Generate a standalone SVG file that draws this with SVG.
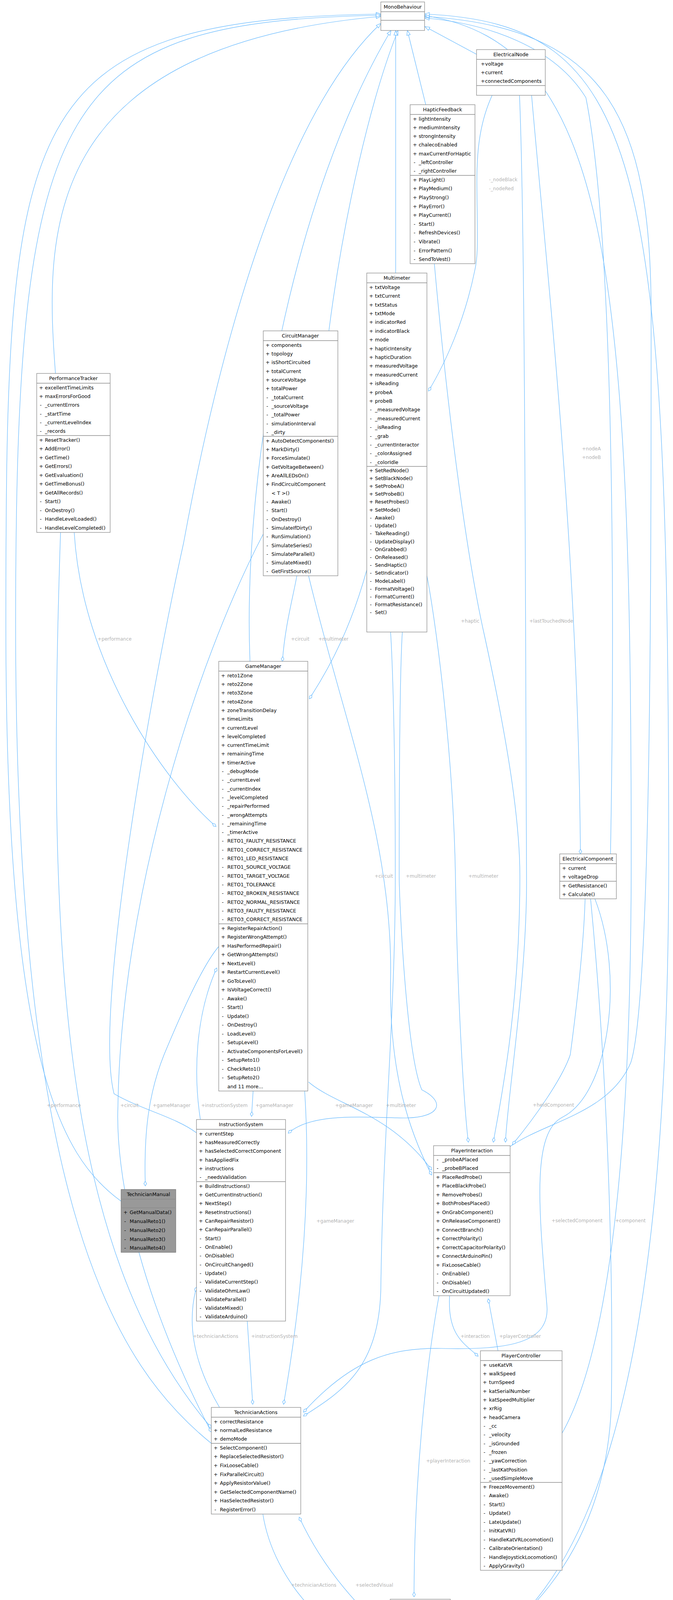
<svg xmlns="http://www.w3.org/2000/svg" width="1723" height="4485" viewBox="0 0 1723 4485">
<style>
.b{fill:#fff;stroke:#8c8c8c;stroke-width:1.3}
.g{fill:#999;stroke:#7a7a7a;stroke-width:1.3}
.d{stroke:#8c8c8c;stroke-width:1.3}
text{font-family:"DejaVu Sans",sans-serif;font-size:12.5px;fill:#000}
.c{text-anchor:middle}
.l{font-size:12px;fill:#b3b3b3}
.e{fill:none;stroke:#63b8ff;stroke-width:1.2}
</style>
<defs>
<marker id="tri" markerUnits="userSpaceOnUse" viewBox="-1 -6 14 12" refX="12" refY="0" markerWidth="14" markerHeight="12" orient="auto"><path d="M0,-4.5 L12,0 L0,4.5 Z" fill="#fff" stroke="#63b8ff" stroke-width="1.2"/></marker>
<marker id="dia" markerUnits="userSpaceOnUse" viewBox="-1 -5 14 10" refX="0" refY="0" markerWidth="14" markerHeight="10" orient="auto"><path d="M0,0 L6,-3.5 L12,0 L6,3.5 Z" fill="#fff" stroke="#63b8ff" stroke-width="1.2"/></marker>
</defs>
<rect width="1723" height="4485" fill="#fff"/>
<g id="edges">
<path class="e" marker-end="url(#tri)" d="M142,956 C115,600 100,120 975,42"/>
<path class="e" marker-end="url(#tri)" d="M310,3075 C150,2960 15,2700 15,1600 C15,300 40,50 975,36"/>
<path class="e" marker-end="url(#tri)" d="M541,3695 C300,3500 40,3100 40,1600 C40,250 150,55 975,39"/>
<path class="e" marker-end="url(#tri)" d="M503,2900 C450,2860 360,2840 292,2800 C240,2600 380,1800 470,1390 C560,900 720,300 975,60"/>
<path class="e" marker-end="url(#tri)" d="M640,1693 C620,1200 750,500 1001,78"/>
<path class="e" marker-end="url(#tri)" d="M842,847 C880,550 950,250 1019,78"/>
<path class="e" marker-end="url(#tri)" d="M1013,699 L1013,78"/>
<path class="e" marker-end="url(#tri)" d="M1090,268 L1043,78"/>
<path class="e" marker-end="url(#tri)" d="M1220,139 L1088,68"/>
<path class="e" marker-end="url(#tri)" d="M1563,2186 C1575,1500 1570,600 1500,250 C1420,120 1250,60 1087,46"/>
<path class="e" marker-end="url(#tri)" d="M1306,2935 C1400,2870 1560,2850 1615,2720 C1667,2560 1667,1500 1667,800 C1667,300 1550,70 1087,42"/>
<path class="e" marker-end="url(#tri)" d="M1439,3669 C1580,3420 1616,2800 1616,2200 C1616,700 1560,110 1087,40"/>
<path class="e" marker-end="url(#tri)" d="M1153,4262 C1500,4120 1712,3600 1712,2200 C1712,400 1640,60 1087,36"/>

<path class="e" marker-start="url(#dia)" d="M553,2116 C420,2000 210,1700 190,1363"/>
<path class="e" marker-start="url(#dia)" d="M541,3655 C150,3200 120,2400 155,1363"/>
<path class="e" marker-start="url(#dia)" d="M723,1693 C730,1600 750,1530 760,1474"/>
<path class="e" marker-start="url(#dia)" d="M541,3666 C350,3300 295,3000 302,2830 C310,2300 500,1700 674,1367"/>
<path class="e" marker-start="url(#dia)" d="M1105,3008 C1050,2900 995,2750 1000,2500 C1005,2150 880,1850 790,1474"/>
<path class="e" marker-start="url(#dia)" d="M792,1789 C850,1700 900,1600 939,1459"/>
<path class="e" marker-start="url(#dia)" d="M738,2901 C800,2845 950,2862 1040,2862 C1130,2860 1140,2820 1080,2790 C1040,2700 1022,2300 1022,2243 C1022,1900 1025,1700 1030,1618"/>
<path class="e" marker-start="url(#dia)" d="M777,3625 C880,3560 970,3500 975,3300 C980,2900 1012,2600 1012,2243 C1012,1900 1005,1700 1000,1618"/>
<path class="e" marker-start="url(#dia)" d="M1105,2995 C1000,2850 860,2830 790,2770"/>
<path class="e" marker-start="url(#dia)" d="M726,3595 C760,3400 800,3100 780,2793"/>
<path class="e" marker-start="url(#dia)" d="M372,3036 C368,2900 380,2800 420,2700 C470,2580 520,2470 560,2423"/>
<path class="e" marker-start="url(#dia)" d="M555,2478 C500,2600 495,2750 513,2866"/>
<path class="e" marker-start="url(#dia)" d="M644,2858 L648,2793"/>
<path class="e" marker-start="url(#dia)" d="M647,3595 L641,3500 L633,3382"/>
<path class="e" marker-start="url(#dia)" d="M503,3295 C480,3380 490,3480 562,3603"/>
<path class="e" marker-start="url(#dia)" d="M990,4250 C850,4200 700,4050 673,3876"/>
<path class="e" marker-start="url(#dia)" d="M766,3884 C820,4000 900,4100 999,4185"/>
<path class="e" marker-start="url(#dia)" d="M1060,4088 C1060,3800 1090,3500 1124,3317"/>
<path class="e" marker-start="url(#dia)" d="M1224,3472 C1190,3440 1145,3420 1151,3317"/>
<path class="e" marker-start="url(#dia)" d="M1250,3325 L1275,3458"/>
<path class="e" marker-start="url(#dia)" d="M1312,2930 C1370,2860 1440,2760 1460,2700 C1480,2550 1495,2400 1498,2301"/>
<path class="e" marker-start="url(#dia)" d="M1160,4250 C1300,4200 1550,4000 1565,3600 C1570,3300 1560,2800 1512,2301"/>
<path class="e" marker-start="url(#dia)" d="M777,3615 C900,3480 1000,3450 1130,3452 C1300,3456 1410,3440 1400,3340 C1380,3100 1360,2900 1440,2860 C1560,2800 1600,2500 1523,2301"/>
<path class="e" marker-start="url(#dia)" d="M1199,2924 C1190,2850 1172,2600 1166,2243 C1160,1900 1110,1560 1093,1474"/>
<path class="e" marker-start="url(#dia)" d="M1263,2924 C1275,2850 1331,2600 1331,2243 C1331,2100 1300,1900 1241,1630 C1200,1450 1150,1100 1112,675"/>
<path class="e" marker-start="url(#dia)" d="M1294,2924 C1300,2800 1350,2500 1348,2243 C1345,1600 1345,600 1330,244"/>
<path class="e" marker-start="url(#dia)" d="M1486,2186 C1480,1400 1400,700 1361,244"/>
<path class="e" marker-start="url(#dia)" d="M1097,1001 C1140,930 1190,820 1216,690 C1225,650 1222,600 1221,480 C1220,400 1225,320 1260,244"/>

<text class="l" x="1252" y="464">-_nodeBlack</text>
<text class="l" x="1252" y="487">-_nodeRed</text>
<text class="l" x="1490" y="1153">+nodeA</text>
<text class="l" x="1490" y="1175">+nodeB</text>
<text class="l" x="1180" y="1594">+haptic</text>
<text class="l" x="1355" y="1594">+lastTouchedNode</text>
<text class="l" x="250" y="1640">+performance</text>
<text class="l" x="745" y="1640">+circuit</text>
<text class="l" x="815" y="1640">+multimeter</text>
<text class="l" x="959" y="2247">+circuit</text>
<text class="l" x="1039" y="2247">+multimeter</text>
<text class="l" x="1199" y="2247">+multimeter</text>
<text class="l" x="120" y="2834">+performance</text>
<text class="l" x="308" y="2834">+circuit</text>
<text class="l" x="391" y="2834">+gameManager</text>
<text class="l" x="515" y="2834">+instructionSystem</text>
<text class="l" x="654" y="2834">+gameManager</text>
<text class="l" x="858" y="2834">+gameManager</text>
<text class="l" x="988" y="2834">+multimeter</text>
<text class="l" x="1364" y="2833">+heldComponent</text>
<text class="l" x="810" y="3130">+gameManager</text>
<text class="l" x="1412" y="3129">+selectedComponent</text>
<text class="l" x="1575" y="3129">+component</text>
<text class="l" x="494" y="3425">+technicianActions</text>
<text class="l" x="643" y="3425">+instructionSystem</text>
<text class="l" x="1179" y="3425">+interaction</text>
<text class="l" x="1278" y="3425">+playerController</text>
<text class="l" x="1091" y="3744">+playerInteraction</text>
<text class="l" x="745" y="4062">+technicianActions</text>
<text class="l" x="910" y="4062">+selectedVisual</text>
</g>

<g id="MonoBehaviour">
<rect class="b" x="975" y="5" width="112" height="73"/>
<line class="d" x1="975" y1="30" x2="1087" y2="30"/><line class="d" x1="975" y1="52" x2="1087" y2="52"/>
<text class="c" x="1031" y="22">MonoBehaviour</text>
</g>

<g id="ElectricalNode">
<rect class="b" x="1220" y="127" width="176" height="117"/>
<line class="d" x1="1220" y1="152" x2="1396" y2="152"/><line class="d" x1="1220" y1="219" x2="1396" y2="219"/>
<text class="c" x="1308" y="144">ElectricalNode</text>
<text x="1231" y="168">+<tspan x="1242">voltage</tspan></text>
<text x="1231" y="190">+<tspan x="1242">current</tspan></text>
<text x="1231" y="212">+<tspan x="1242">connectedComponents</tspan></text>
</g>

<g id="HapticFeedback">
<rect class="b" x="1050" y="268" width="166" height="407"/>
<line class="d" x1="1050" y1="293" x2="1216" y2="293"/><line class="d" x1="1050" y1="449" x2="1216" y2="449"/>
<text class="c" x="1133" y="285">HapticFeedback</text>
<text x="1057" y="309">+<tspan x="1072">lightIntensity</tspan></text>
<text x="1057" y="331">+<tspan x="1072">mediumIntensity</tspan></text>
<text x="1057" y="353">+<tspan x="1072">strongIntensity</tspan></text>
<text x="1057" y="375">+<tspan x="1072">chalecoEnabled</tspan></text>
<text x="1057" y="398">+<tspan x="1072">maxCurrentForHaptic</tspan></text>
<text x="1059" y="420">-<tspan x="1072">_leftController</tspan></text>
<text x="1059" y="442">-<tspan x="1072">_rightController</tspan></text>
<text x="1057" y="465">+<tspan x="1072">PlayLight()</tspan></text>
<text x="1057" y="487">+<tspan x="1072">PlayMedium()</tspan></text>
<text x="1057" y="510">+<tspan x="1072">PlayStrong()</tspan></text>
<text x="1057" y="533">+<tspan x="1072">PlayError()</tspan></text>
<text x="1057" y="555">+<tspan x="1072">PlayCurrent()</tspan></text>
<text x="1059" y="578">-<tspan x="1072">Start()</tspan></text>
<text x="1059" y="600">-<tspan x="1072">RefreshDevices()</tspan></text>
<text x="1059" y="623">-<tspan x="1072">Vibrate()</tspan></text>
<text x="1059" y="646">-<tspan x="1072">ErrorPattern()</tspan></text>
<text x="1059" y="668">-<tspan x="1072">SendToVest()</tspan></text>
</g>

<g id="Multimeter">
<rect class="b" x="939" y="699" width="154" height="919"/>
<line class="d" x1="939" y1="724" x2="1093" y2="724"/><line class="d" x1="939" y1="1194" x2="1093" y2="1194"/>
<text class="c" x="1016" y="716">Multimeter</text>
<text x="945" y="740">+<tspan x="960">txtVoltage</tspan></text>
<text x="945" y="762">+<tspan x="960">txtCurrent</tspan></text>
<text x="945" y="785">+<tspan x="960">txtStatus</tspan></text>
<text x="945" y="807">+<tspan x="960">txtMode</tspan></text>
<text x="945" y="829">+<tspan x="960">indicatorRed</tspan></text>
<text x="945" y="852">+<tspan x="960">indicatorBlack</tspan></text>
<text x="945" y="874">+<tspan x="960">mode</tspan></text>
<text x="945" y="897">+<tspan x="960">hapticIntensity</tspan></text>
<text x="945" y="919">+<tspan x="960">hapticDuration</tspan></text>
<text x="945" y="941">+<tspan x="960">measuredVoltage</tspan></text>
<text x="945" y="964">+<tspan x="960">measuredCurrent</tspan></text>
<text x="945" y="986">+<tspan x="960">isReading</tspan></text>
<text x="945" y="1009">+<tspan x="960">probeA</tspan></text>
<text x="945" y="1031">+<tspan x="960">probeB</tspan></text>
<text x="947" y="1053">-<tspan x="960">_measuredVoltage</tspan></text>
<text x="947" y="1076">-<tspan x="960">_measuredCurrent</tspan></text>
<text x="947" y="1098">-<tspan x="960">_isReading</tspan></text>
<text x="947" y="1121">-<tspan x="960">_grab</tspan></text>
<text x="947" y="1143">-<tspan x="960">_currentInteractor</tspan></text>
<text x="947" y="1165">-<tspan x="960">_colorAssigned</tspan></text>
<text x="947" y="1188">-<tspan x="960">_colorIdle</tspan></text>
<text x="945" y="1209">+<tspan x="960">SetRedNode()</tspan></text>
<text x="945" y="1229">+<tspan x="960">SetBlackNode()</tspan></text>
<text x="945" y="1249">+<tspan x="960">SetProbeA()</tspan></text>
<text x="945" y="1269">+<tspan x="960">SetProbeB()</tspan></text>
<text x="945" y="1289">+<tspan x="960">ResetProbes()</tspan></text>
<text x="945" y="1310">+<tspan x="960">SetMode()</tspan></text>
<text x="947" y="1330">-<tspan x="960">Awake()</tspan></text>
<text x="947" y="1350">-<tspan x="960">Update()</tspan></text>
<text x="947" y="1370">-<tspan x="960">TakeReading()</tspan></text>
<text x="947" y="1391">-<tspan x="960">UpdateDisplay()</tspan></text>
<text x="947" y="1411">-<tspan x="960">OnGrabbed()</tspan></text>
<text x="947" y="1431">-<tspan x="960">OnReleased()</tspan></text>
<text x="947" y="1451">-<tspan x="960">SendHaptic()</tspan></text>
<text x="947" y="1471">-<tspan x="960">SetIndicator()</tspan></text>
<text x="947" y="1492">-<tspan x="960">ModeLabel()</tspan></text>
<text x="947" y="1512">-<tspan x="960">FormatVoltage()</tspan></text>
<text x="947" y="1532">-<tspan x="960">FormatCurrent()</tspan></text>
<text x="947" y="1552">-<tspan x="960">FormatResistance()</tspan></text>
<text x="947" y="1572">-<tspan x="960">Set()</tspan></text>
</g>

<g id="CircuitManager">
<rect class="b" x="674" y="847" width="191" height="627"/>
<line class="d" x1="674" y1="872" x2="865" y2="872"/><line class="d" x1="674" y1="1117" x2="865" y2="1117"/>
<text class="c" x="769" y="864">CircuitManager</text>
<text x="680" y="888">+<tspan x="695">components</tspan></text>
<text x="680" y="910">+<tspan x="695">topology</tspan></text>
<text x="680" y="932">+<tspan x="695">isShortCircuited</tspan></text>
<text x="680" y="955">+<tspan x="695">totalCurrent</tspan></text>
<text x="680" y="977">+<tspan x="695">sourceVoltage</tspan></text>
<text x="680" y="999">+<tspan x="695">totalPower</tspan></text>
<text x="682" y="1022">-<tspan x="695">_totalCurrent</tspan></text>
<text x="682" y="1044">-<tspan x="695">_sourceVoltage</tspan></text>
<text x="682" y="1066">-<tspan x="695">_totalPower</tspan></text>
<text x="682" y="1089">-<tspan x="695">simulationInterval</tspan></text>
<text x="682" y="1111">-<tspan x="695">_dirty</tspan></text>
<text x="680" y="1133">+<tspan x="695">AutoDetectComponents()</tspan></text>
<text x="680" y="1155">+<tspan x="695">MarkDirty()</tspan></text>
<text x="680" y="1177">+<tspan x="695">ForceSimulate()</tspan></text>
<text x="680" y="1200">+<tspan x="695">GetVoltageBetween()</tspan></text>
<text x="680" y="1222">+<tspan x="695">AreAllLEDsOn()</tspan></text>
<text x="680" y="1244">+<tspan x="695">FindCircuitComponent</tspan></text>
<text x="695" y="1267">&lt; T &gt;()</text>
<text x="682" y="1289">-<tspan x="695">Awake()</tspan></text>
<text x="682" y="1311">-<tspan x="695">Start()</tspan></text>
<text x="682" y="1334">-<tspan x="695">OnDestroy()</tspan></text>
<text x="682" y="1356">-<tspan x="695">SimulateIfDirty()</tspan></text>
<text x="682" y="1378">-<tspan x="695">RunSimulation()</tspan></text>
<text x="682" y="1401">-<tspan x="695">SimulateSeries()</tspan></text>
<text x="682" y="1423">-<tspan x="695">SimulateParallel()</tspan></text>
<text x="682" y="1445">-<tspan x="695">SimulateMixed()</tspan></text>
<text x="682" y="1467">-<tspan x="695">GetFirstSource()</tspan></text>
</g>

<g id="PerformanceTracker">
<rect class="b" x="94" y="956" width="188" height="407"/>
<line class="d" x1="94" y1="981" x2="282" y2="981"/><line class="d" x1="94" y1="1115" x2="282" y2="1115"/>
<text class="c" x="188" y="973">PerformanceTracker</text>
<text x="100" y="997">+<tspan x="115">excellentTimeLimits</tspan></text>
<text x="100" y="1019">+<tspan x="115">maxErrorsForGood</tspan></text>
<text x="102" y="1041">-<tspan x="115">_currentErrors</tspan></text>
<text x="102" y="1064">-<tspan x="115">_startTime</tspan></text>
<text x="102" y="1086">-<tspan x="115">_currentLevelIndex</tspan></text>
<text x="102" y="1108">-<tspan x="115">_records</tspan></text>
<text x="100" y="1131">+<tspan x="115">ResetTracker()</tspan></text>
<text x="100" y="1153">+<tspan x="115">AddError()</tspan></text>
<text x="100" y="1176">+<tspan x="115">GetTime()</tspan></text>
<text x="100" y="1198">+<tspan x="115">GetErrors()</tspan></text>
<text x="100" y="1221">+<tspan x="115">GetEvaluation()</tspan></text>
<text x="100" y="1243">+<tspan x="115">GetTimeBonus()</tspan></text>
<text x="100" y="1266">+<tspan x="115">GetAllRecords()</tspan></text>
<text x="102" y="1288">-<tspan x="115">Start()</tspan></text>
<text x="102" y="1311">-<tspan x="115">OnDestroy()</tspan></text>
<text x="102" y="1333">-<tspan x="115">HandleLevelLoaded()</tspan></text>
<text x="102" y="1356">-<tspan x="115">HandleLevelCompleted()</tspan></text>
</g>

<g id="GameManager">
<rect class="b" x="560" y="1693" width="228" height="1100"/>
<line class="d" x1="560" y1="1718" x2="788" y2="1718"/><line class="d" x1="560" y1="2365" x2="788" y2="2365"/>
<text class="c" x="674" y="1710">GameManager</text>
<text x="566" y="1734">+<tspan x="582">reto1Zone</tspan></text>
<text x="566" y="1756">+<tspan x="582">reto2Zone</tspan></text>
<text x="566" y="1778">+<tspan x="582">reto3Zone</tspan></text>
<text x="566" y="1801">+<tspan x="582">reto4Zone</tspan></text>
<text x="566" y="1823">+<tspan x="582">zoneTransitionDelay</tspan></text>
<text x="566" y="1845">+<tspan x="582">timeLimits</tspan></text>
<text x="566" y="1868">+<tspan x="582">currentLevel</tspan></text>
<text x="566" y="1890">+<tspan x="582">levelCompleted</tspan></text>
<text x="566" y="1912">+<tspan x="582">currentTimeLimit</tspan></text>
<text x="566" y="1934">+<tspan x="582">remainingTime</tspan></text>
<text x="566" y="1957">+<tspan x="582">timerActive</tspan></text>
<text x="568" y="1979">-<tspan x="582">_debugMode</tspan></text>
<text x="568" y="2001">-<tspan x="582">_currentLevel</tspan></text>
<text x="568" y="2024">-<tspan x="582">_currentIndex</tspan></text>
<text x="568" y="2046">-<tspan x="582">_levelCompleted</tspan></text>
<text x="568" y="2068">-<tspan x="582">_repairPerformed</tspan></text>
<text x="568" y="2091">-<tspan x="582">_wrongAttempts</tspan></text>
<text x="568" y="2113">-<tspan x="582">_remainingTime</tspan></text>
<text x="568" y="2135">-<tspan x="582">_timerActive</tspan></text>
<text x="568" y="2157">-<tspan x="582">RETO1_FAULTY_RESISTANCE</tspan></text>
<text x="568" y="2180">-<tspan x="582">RETO1_CORRECT_RESISTANCE</tspan></text>
<text x="568" y="2202">-<tspan x="582">RETO1_LED_RESISTANCE</tspan></text>
<text x="568" y="2224">-<tspan x="582">RETO1_SOURCE_VOLTAGE</tspan></text>
<text x="568" y="2247">-<tspan x="582">RETO1_TARGET_VOLTAGE</tspan></text>
<text x="568" y="2269">-<tspan x="582">RETO1_TOLERANCE</tspan></text>
<text x="568" y="2291">-<tspan x="582">RETO2_BROKEN_RESISTANCE</tspan></text>
<text x="568" y="2314">-<tspan x="582">RETO2_NORMAL_RESISTANCE</tspan></text>
<text x="568" y="2336">-<tspan x="582">RETO3_FAULTY_RESISTANCE</tspan></text>
<text x="568" y="2358">-<tspan x="582">RETO3_CORRECT_RESISTANCE</tspan></text>
<text x="566" y="2381">+<tspan x="582">RegisterRepairAction()</tspan></text>
<text x="566" y="2403">+<tspan x="582">RegisterWrongAttempt()</tspan></text>
<text x="566" y="2426">+<tspan x="582">HasPerformedRepair()</tspan></text>
<text x="566" y="2448">+<tspan x="582">GetWrongAttempts()</tspan></text>
<text x="566" y="2471">+<tspan x="582">NextLevel()</tspan></text>
<text x="566" y="2493">+<tspan x="582">RestartCurrentLevel()</tspan></text>
<text x="566" y="2516">+<tspan x="582">GoToLevel()</tspan></text>
<text x="566" y="2538">+<tspan x="582">IsVoltageCorrect()</tspan></text>
<text x="568" y="2561">-<tspan x="582">Awake()</tspan></text>
<text x="568" y="2583">-<tspan x="582">Start()</tspan></text>
<text x="568" y="2606">-<tspan x="582">Update()</tspan></text>
<text x="568" y="2628">-<tspan x="582">OnDestroy()</tspan></text>
<text x="568" y="2651">-<tspan x="582">LoadLevel()</tspan></text>
<text x="568" y="2673">-<tspan x="582">SetupLevel()</tspan></text>
<text x="568" y="2696">-<tspan x="582">ActivateComponentsForLevel()</tspan></text>
<text x="568" y="2718">-<tspan x="582">SetupReto1()</tspan></text>
<text x="568" y="2741">-<tspan x="582">CheckReto1()</tspan></text>
<text x="568" y="2763">-<tspan x="582">SetupReto2()</tspan></text>
<text x="582" y="2786">and 11 more...</text>
</g>

<g id="InstructionSystem">
<rect class="b" x="503" y="2866" width="228" height="516"/>
<line class="d" x1="503" y1="2891" x2="731" y2="2891"/><line class="d" x1="503" y1="3025" x2="731" y2="3025"/>
<text class="c" x="617" y="2883">InstructionSystem</text>
<text x="509" y="2907">+<tspan x="525">currentStep</tspan></text>
<text x="509" y="2929">+<tspan x="525">hasMeasuredCorrectly</tspan></text>
<text x="509" y="2951">+<tspan x="525">hasSelectedCorrectComponent</tspan></text>
<text x="509" y="2974">+<tspan x="525">hasAppliedFix</tspan></text>
<text x="509" y="2996">+<tspan x="525">instructions</tspan></text>
<text x="511" y="3018">-<tspan x="525">_needsValidation</tspan></text>
<text x="509" y="3041">+<tspan x="525">BuildInstructions()</tspan></text>
<text x="509" y="3063">+<tspan x="525">GetCurrentInstruction()</tspan></text>
<text x="509" y="3085">+<tspan x="525">NextStep()</tspan></text>
<text x="509" y="3108">+<tspan x="525">ResetInstructions()</tspan></text>
<text x="509" y="3130">+<tspan x="525">CanRepairResistor()</tspan></text>
<text x="509" y="3152">+<tspan x="525">CanRepairParallel()</tspan></text>
<text x="511" y="3175">-<tspan x="525">Start()</tspan></text>
<text x="511" y="3197">-<tspan x="525">OnEnable()</tspan></text>
<text x="511" y="3219">-<tspan x="525">OnDisable()</tspan></text>
<text x="511" y="3242">-<tspan x="525">OnCircuitChanged()</tspan></text>
<text x="511" y="3264">-<tspan x="525">Update()</tspan></text>
<text x="511" y="3286">-<tspan x="525">ValidateCurrentStep()</tspan></text>
<text x="511" y="3309">-<tspan x="525">ValidateOhmLaw()</tspan></text>
<text x="511" y="3331">-<tspan x="525">ValidateParallel()</tspan></text>
<text x="511" y="3353">-<tspan x="525">ValidateMixed()</tspan></text>
<text x="511" y="3375">-<tspan x="525">ValidateArduino()</tspan></text>
</g>

<g id="TechnicianManual">
<rect class="g" x="310" y="3045" width="140" height="161"/>
<line class="d" x1="310" y1="3070" x2="450" y2="3070" stroke="#7a7a7a"/><line class="d" x1="310" y1="3092" x2="450" y2="3092" stroke="#7a7a7a"/>
<text class="c" x="380" y="3062">TechnicianManual</text>
<text x="316" y="3108">+<tspan x="332">GetManualData()</tspan></text>
<text x="318" y="3131">-<tspan x="332">ManualReto1()</tspan></text>
<text x="318" y="3154">-<tspan x="332">ManualReto2()</tspan></text>
<text x="318" y="3177">-<tspan x="332">ManualReto3()</tspan></text>
<text x="318" y="3199">-<tspan x="332">ManualReto4()</tspan></text>
</g>

<g id="ElectricalComponent">
<rect class="b" x="1433" y="2186" width="145" height="115"/>
<line class="d" x1="1433" y1="2211" x2="1578" y2="2211"/><line class="d" x1="1433" y1="2256" x2="1578" y2="2256"/>
<text class="c" x="1505" y="2203">ElectricalComponent</text>
<text x="1439" y="2227">+<tspan x="1455">current</tspan></text>
<text x="1439" y="2249">+<tspan x="1455">voltageDrop</tspan></text>
<text x="1439" y="2272">+<tspan x="1455">GetResistance()</tspan></text>
<text x="1439" y="2294">+<tspan x="1455">Calculate()</tspan></text>
</g>

<g id="PlayerInteraction">
<rect class="b" x="1110" y="2933" width="196" height="384"/>
<line class="d" x1="1110" y1="2958" x2="1306" y2="2958"/><line class="d" x1="1110" y1="3002" x2="1306" y2="3002"/>
<text class="c" x="1208" y="2950">PlayerInteraction</text>
<text x="1118" y="2973">-<tspan x="1132">_probeAPlaced</tspan></text>
<text x="1118" y="2995">-<tspan x="1132">_probeBPlaced</tspan></text>
<text x="1116" y="3018">+<tspan x="1132">PlaceRedProbe()</tspan></text>
<text x="1116" y="3040">+<tspan x="1132">PlaceBlackProbe()</tspan></text>
<text x="1116" y="3063">+<tspan x="1132">RemoveProbes()</tspan></text>
<text x="1116" y="3085">+<tspan x="1132">BothProbesPlaced()</tspan></text>
<text x="1116" y="3108">+<tspan x="1132">OnGrabComponent()</tspan></text>
<text x="1116" y="3130">+<tspan x="1132">OnReleaseComponent()</tspan></text>
<text x="1116" y="3153">+<tspan x="1132">ConnectBranch()</tspan></text>
<text x="1116" y="3175">+<tspan x="1132">CorrectPolarity()</tspan></text>
<text x="1116" y="3198">+<tspan x="1132">CorrectCapacitorPolarity()</tspan></text>
<text x="1116" y="3220">+<tspan x="1132">ConnectArduinoPin()</tspan></text>
<text x="1116" y="3243">+<tspan x="1132">FixLooseCable()</tspan></text>
<text x="1118" y="3265">-<tspan x="1132">OnEnable()</tspan></text>
<text x="1118" y="3288">-<tspan x="1132">OnDisable()</tspan></text>
<text x="1118" y="3310">-<tspan x="1132">OnCircuitUpdated()</tspan></text>
</g>

<g id="PlayerController">
<rect class="b" x="1230" y="3458" width="209" height="562"/>
<line class="d" x1="1230" y1="3483" x2="1439" y2="3483"/><line class="d" x1="1230" y1="3795" x2="1439" y2="3795"/>
<text class="c" x="1334" y="3475">PlayerController</text>
<text x="1236" y="3499">+<tspan x="1252">useKatVR</tspan></text>
<text x="1236" y="3521">+<tspan x="1252">walkSpeed</tspan></text>
<text x="1236" y="3543">+<tspan x="1252">turnSpeed</tspan></text>
<text x="1236" y="3566">+<tspan x="1252">katSerialNumber</tspan></text>
<text x="1236" y="3588">+<tspan x="1252">katSpeedMultiplier</tspan></text>
<text x="1236" y="3610">+<tspan x="1252">xrRig</tspan></text>
<text x="1236" y="3633">+<tspan x="1252">headCamera</tspan></text>
<text x="1238" y="3655">-<tspan x="1252">_cc</tspan></text>
<text x="1238" y="3677">-<tspan x="1252">_velocity</tspan></text>
<text x="1238" y="3700">-<tspan x="1252">_isGrounded</tspan></text>
<text x="1238" y="3722">-<tspan x="1252">_frozen</tspan></text>
<text x="1238" y="3744">-<tspan x="1252">_yawCorrection</tspan></text>
<text x="1238" y="3767">-<tspan x="1252">_lastKatPosition</tspan></text>
<text x="1238" y="3789">-<tspan x="1252">_usedSimpleMove</tspan></text>
<text x="1236" y="3811">+<tspan x="1252">FreezeMovement()</tspan></text>
<text x="1238" y="3833">-<tspan x="1252">Awake()</tspan></text>
<text x="1238" y="3856">-<tspan x="1252">Start()</tspan></text>
<text x="1238" y="3878">-<tspan x="1252">Update()</tspan></text>
<text x="1238" y="3901">-<tspan x="1252">LateUpdate()</tspan></text>
<text x="1238" y="3923">-<tspan x="1252">InitKatVR()</tspan></text>
<text x="1238" y="3946">-<tspan x="1252">HandleKatVRLocomotion()</tspan></text>
<text x="1238" y="3968">-<tspan x="1252">CalibrateOrientation()</tspan></text>
<text x="1238" y="3991">-<tspan x="1252">HandleJoystickLocomotion()</tspan></text>
<text x="1238" y="4013">-<tspan x="1252">ApplyGravity()</tspan></text>
</g>

<g id="TechnicianActions">
<rect class="b" x="541" y="3603" width="229" height="273"/>
<line class="d" x1="541" y1="3628" x2="770" y2="3628"/><line class="d" x1="541" y1="3695" x2="770" y2="3695"/>
<text class="c" x="655" y="3620">TechnicianActions</text>
<text x="547" y="3644">+<tspan x="563">correctResistance</tspan></text>
<text x="547" y="3666">+<tspan x="563">normalLedResistance</tspan></text>
<text x="547" y="3688">+<tspan x="563">demoMode</tspan></text>
<text x="547" y="3711">+<tspan x="563">SelectComponent()</tspan></text>
<text x="547" y="3733">+<tspan x="563">ReplaceSelectedResistor()</tspan></text>
<text x="547" y="3756">+<tspan x="563">FixLooseCable()</tspan></text>
<text x="547" y="3779">+<tspan x="563">FixParallelCircuit()</tspan></text>
<text x="547" y="3801">+<tspan x="563">ApplyResistorValue()</tspan></text>
<text x="547" y="3824">+<tspan x="563">GetSelectedComponentName()</tspan></text>
<text x="547" y="3846">+<tspan x="563">HasSelectedResistor()</tspan></text>
<text x="549" y="3869">-<tspan x="563">RegisterError()</tspan></text>
</g>

<g id="SelectableComponent">
<rect class="b" x="999" y="4094" width="154" height="385"/>
<line class="d" x1="999" y1="4120" x2="1153" y2="4120"/><line class="d" x1="999" y1="4276" x2="1153" y2="4276"/>
<text class="c" x="1076" y="4112">SelectableComponent</text>
<text x="1009" y="4135">+<tspan x="1031">hoverColor</tspan></text>
<text x="1009" y="4158">+<tspan x="1031">selectedColor</tspan></text>
<text x="1011" y="4180">-<tspan x="1031">_interactable</tspan></text>
<text x="1011" y="4202">-<tspan x="1031">_renderer</tspan></text>
<text x="1011" y="4225">-<tspan x="1031">_originalColor</tspan></text>
<text x="1011" y="4247">-<tspan x="1031">_mpb</tspan></text>
<text x="1011" y="4269">-<tspan x="1031">_colorID</tspan></text>
<text x="1009" y="4292">+<tspan x="1031">Highlight()</tspan></text>
<text x="1009" y="4314">+<tspan x="1031">ResetHighlight()</tspan></text>
<text x="1011" y="4337">-<tspan x="1031">Awake()</tspan></text>
<text x="1011" y="4360">-<tspan x="1031">OnEnable()</tspan></text>
<text x="1011" y="4382">-<tspan x="1031">OnDisable()</tspan></text>
<text x="1011" y="4405">-<tspan x="1031">OnHoverEnter()</tspan></text>
<text x="1011" y="4427">-<tspan x="1031">OnHoverExit()</tspan></text>
<text x="1011" y="4450">-<tspan x="1031">OnSelect()</tspan></text>
<text x="1011" y="4473">-<tspan x="1031">SetColor()</tspan></text>
</g>
</svg>
